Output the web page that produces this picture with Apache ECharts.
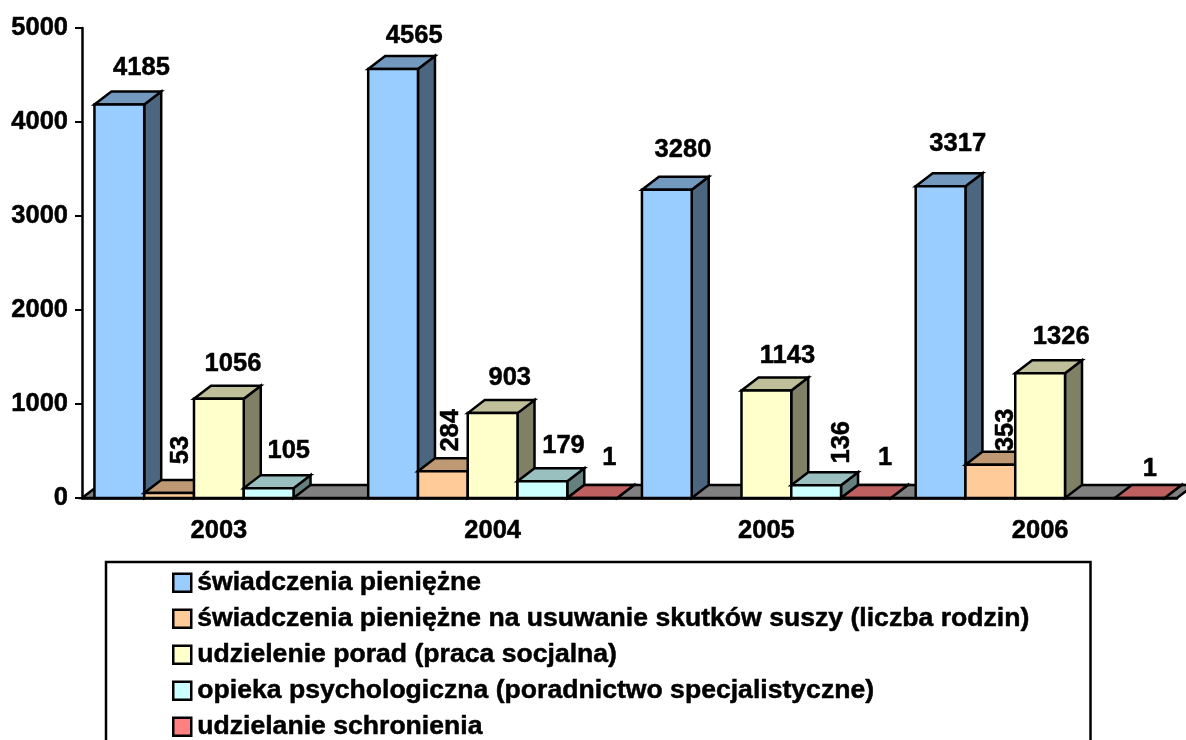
<!DOCTYPE html>
<html>
<head>
<meta charset="utf-8">
<title>Formy pomocy</title>
<script src="https://cdn.jsdelivr.net/npm/echarts@6/dist/echarts.min.js"></script>
<style>
    html, body { margin: 0; padding: 0; background: #fff; overflow: hidden; }
    #chart { width: 1186px; height: 740px; }
</style>
</head>
<body>
<div id="chart"></div>
<script>
// dane
var categories = ['2003', '2004', '2005', '2006'];
var seriesNames = [
    'świadczenia pieniężne',
    'świadczenia pieniężne na usuwanie skutków suszy (liczba rodzin)',
    'udzielenie porad (praca socjalna)',
    'opieka psychologiczna (poradnictwo specjalistyczne)',
    'udzielanie schronienia'
];
var pieniezne = [4185, 4565, 3280, 3317];
var susza = [53, 284, 0, 353];
var porady = [1056, 903, 1143, 1326];
var opieka = [105, 179, 136, 0];
var schronienie = [0, 1, 1, 1];
var seriesValues = [pieniezne, susza, porady, opieka, schronienie];
var yTicks = { min: 0, max: 5000, interval: 1000 };

// wygląd
var seriesColors = ['#99ccff', '#ffcc99', '#ffffcc', '#ccffff', '#ff8080'];
var FONT = '"Liberation Sans", Arial, sans-serif';
var DEPTH_X = 17, DEPTH_Y = 13;
var GAP_RATIO = 0.5; // przerwa między grupami, w szerokościach słupka
var TEXT_WEIGHT = 0.5; // oryginał ma cięższe litery

// przesunięcia etykiet [dx, dy, obrót] liczone od lewej krawędzi i tylnej górnej krawędzi słupka
var labelPlace = [
    [[47, -24], [46, -20], [41, -27], [42, -29]],
    [[37, -30, 1], [33, -28, 1], null, [41, -22, 1]],
    [[39, -22], [42, -22], [46, -22], [46, -23]],
    [[45, -24], [46, -22], [51, -30, 1], null],
    [null, [42, -27], [44, -27], [35, -16]]
];

function shade(hex, k) {
    var c = echarts.color.parse(hex);
    return 'rgb(' + Math.round(c[0] * k) + ',' + Math.round(c[1] * k) + ',' + Math.round(c[2] * k) + ')';
}

function face(points, fill) {
    return {
        type: 'polygon',
        shape: { points: points },
        style: { fill: fill, stroke: '#000', lineWidth: 2.5, lineJoin: 'miter' }
    };
}

// podłoga wykresu
function renderFloor(params, api) {
    var band = api.size([1, 0])[0];
    var a = api.coord([0, 0]);
    var b = api.coord([categories.length - 1, 0]);
    var x0 = a[0] - band / 2, x1 = b[0] + band / 2, y = a[1];
    return face([[x0, y], [x0 + DEPTH_X, y - DEPTH_Y], [x1 + DEPTH_X, y - DEPTH_Y], [x1, y]], '#808080');
}

// słupek 3D dla jednej serii
function renderBar(s) {
    return function (params, api) {
        var value = api.value(1);
        if (!value) return null;
        var cat = api.value(0);
        var band = api.size([1, 0])[0];
        var n = seriesValues.length;
        var w = band / (n + GAP_RATIO);
        var top = api.coord([cat, value]);
        var base = api.coord([cat, 0]);
        var x0 = top[0] - band / 2 + w * GAP_RATIO / 2 + s * w;
        var x1 = x0 + w;
        var color = seriesColors[s];
        var children = [
            face([[x1, base[1]], [x1 + DEPTH_X, base[1] - DEPTH_Y], [x1 + DEPTH_X, top[1] - DEPTH_Y], [x1, top[1]]], shade(color, 0.5)),
            face([[x0, top[1]], [x0 + DEPTH_X, top[1] - DEPTH_Y], [x1 + DEPTH_X, top[1] - DEPTH_Y], [x1, top[1]]], shade(color, 0.75)),
            face([[x0, base[1]], [x0, top[1]], [x1, top[1]], [x1, base[1]]], color)
        ];
        var place = labelPlace[s][cat];
        if (place) {
            children.push({
                type: 'text',
                x: x0 + place[0],
                y: top[1] - DEPTH_Y + place[1],
                rotation: place[2] ? Math.PI / 2 : 0,
                z2: 100,
                style: {
                    text: String(value),
                    fill: '#000',
                    stroke: '#000',
                    lineWidth: TEXT_WEIGHT,
                    font: 'bold 25.5px ' + FONT,
                    align: 'center',
                    verticalAlign: 'middle'
                }
            });
        }
        return { type: 'group', children: children };
    };
}

var series = [{
    name: 'floor',
    type: 'custom',
    silent: true,
    renderItem: renderFloor,
    data: [[0, 0]],
    z: 1
}];
seriesNames.forEach(function (name, s) {
    series.push({
        name: name,
        type: 'custom',
        silent: true,
        renderItem: renderBar(s),
        itemStyle: { color: seriesColors[s] },
        encode: { x: 0, y: 1 },
        data: seriesValues[s].map(function (v, i) { return [i, v]; }),
        z: 2
    });
});

var chart = echarts.init(document.getElementById('chart'), null, { renderer: 'canvas' });
chart.setOption({
    animation: false,
    grid: { left: 82, right: 9, top: 28, bottom: 242, containLabel: false },
    xAxis: {
        type: 'category',
        data: categories,
        boundaryGap: true,
        axisLine: { lineStyle: { color: '#000', width: 2.5 } },
        axisTick: { length: 7, alignWithLabel: false, lineStyle: { color: '#000', width: 2 } },
        axisLabel: {
            color: '#000', fontFamily: FONT, fontWeight: 'bold', fontSize: 25.5, margin: 20,
            textBorderColor: '#000', textBorderWidth: TEXT_WEIGHT
        },
        splitLine: { show: false },
        z: 5
    },
    yAxis: {
        type: 'value',
        min: yTicks.min,
        max: yTicks.max,
        interval: yTicks.interval,
        axisLine: { show: true, lineStyle: { color: '#000', width: 2.5 } },
        axisTick: { show: true, length: 7, lineStyle: { color: '#000', width: 2 } },
        axisLabel: {
            color: '#000', fontFamily: FONT, fontWeight: 'bold', fontSize: 25.5, margin: 14,
            textBorderColor: '#000', textBorderWidth: TEXT_WEIGHT,
            formatter: function (v) { return String(v); }
        },
        splitLine: { show: false },
        z: 5
    },
    legend: {
        data: seriesNames.map(function (name) { return { name: name, icon: 'rect' }; }),
        orient: 'vertical',
        left: 106,
        top: 562,
        height: 400,
        padding: [7, 61, 60, 66],
        itemWidth: 18,
        itemHeight: 18,
        itemGap: 8.5,
        selectedMode: false,
        borderColor: '#000',
        borderWidth: 2.5,
        itemStyle: { borderColor: '#000', borderWidth: 2.5 },
        textStyle: {
            color: '#000', fontFamily: FONT, fontWeight: 'bold', fontSize: 26.6, padding: [0, 0, 0, 1],
            textBorderColor: '#000', textBorderWidth: TEXT_WEIGHT
        }
    },
    series: series
});
</script>
</body>
</html>
